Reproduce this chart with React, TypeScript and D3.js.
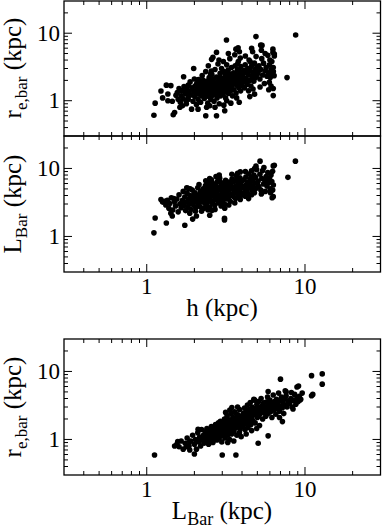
import * as d3 from "d3";

// h (kpc) vs r_e,bar (kpc)
const hRe: [number, number][] = [
  [1.11, 0.61], [1.13, 0.92], [1.23, 1.39], [1.26, 1.1], [1.33, 1.7], [1.42, 1.67], [1.36, 1.26], [1.36, 1.0],
  [1.45, 0.98], [1.47, 0.62], [1.5, 0.67], [1.53, 1.2], [1.62, 0.8], [1.66, 1.4], [1.68, 0.84], [1.71, 2.26],
  [1.77, 1.0], [1.83, 1.7], [1.83, 1.16], [1.92, 0.75], [1.98, 3.0], [2.0, 2.1], [2.11, 0.75], [2.17, 1.6],
  [2.36, 0.6], [2.5, 0.84], [2.53, 2.48], [2.57, 4.1], [2.76, 5.2], [2.76, 0.6], [3.07, 0.86], [3.11, 0.71],
  [3.19, 7.95], [3.78, 6.1], [3.84, 0.95], [4.3, 1.87], [4.48, 1.15], [4.7, 1.49], [4.9, 8.9], [5.25, 6.65],
  [5.35, 6.6], [5.95, 1.87], [6.1, 1.65], [6.27, 5.8], [6.27, 5.2], [6.3, 1.52], [6.3, 1.19], [6.4, 4.9],
  [6.4, 4.6], [6.3, 3.1], [7.7, 2.2], [8.73, 9.4],
  [1.56, 1.32], [1.58, 1.05], [1.6, 1.52], [1.63, 0.95], [1.65, 1.18], [1.68, 1.42], [1.7, 1.08], [1.72, 1.62],
  [1.75, 1.28], [1.78, 0.9], [1.8, 1.48], [1.83, 1.05], [1.85, 1.35], [1.88, 1.9], [1.9, 1.22], [1.93, 1.55],
  [1.96, 0.98], [1.98, 1.4],
  [2.01, 1.15], [2.02, 1.65], [2.04, 1.3], [2.06, 0.88], [2.07, 1.8], [2.09, 1.45], [2.11, 1.05], [2.12, 2.05],
  [2.14, 1.25], [2.16, 1.58], [2.18, 1.38], [2.19, 0.95], [2.21, 1.72], [2.23, 1.18], [2.24, 2.35], [2.26, 1.48],
  [2.28, 1.3], [2.3, 1.85], [2.31, 1.08], [2.33, 1.62], [2.35, 1.4], [2.36, 2.7], [2.38, 1.22], [2.4, 1.55],
  [2.41, 1.95], [2.43, 0.92], [2.44, 1.35], [2.46, 1.75], [2.47, 1.15], [2.48, 2.2], [2.49, 1.48], [2.45, 3.3],
  [2.39, 0.8], [2.27, 2.0], [2.15, 1.9],
  [2.51, 1.28], [2.52, 1.68], [2.54, 1.05], [2.55, 1.9], [2.57, 1.42], [2.58, 2.45], [2.6, 1.2], [2.61, 1.58],
  [2.63, 1.35], [2.64, 2.1], [2.66, 0.98], [2.67, 1.75], [2.69, 1.5], [2.7, 2.9], [2.72, 1.25], [2.73, 1.65],
  [2.75, 1.4], [2.76, 2.25], [2.78, 1.1], [2.79, 1.85], [2.81, 1.55], [2.82, 3.5], [2.84, 1.32], [2.85, 2.0],
  [2.87, 0.9], [2.88, 1.7], [2.9, 1.45], [2.91, 2.55], [2.93, 1.18], [2.94, 1.95], [2.96, 1.6], [2.97, 3.0],
  [2.99, 1.38], [2.62, 4.4], [2.86, 4.0], [2.7, 0.8], [2.56, 2.75], [2.8, 1.62], [2.92, 2.2], [2.65, 1.88],
  [3.01, 1.72], [3.03, 1.25], [3.04, 2.15], [3.06, 1.5], [3.08, 2.7], [3.1, 1.35], [3.11, 1.95], [3.13, 1.62],
  [3.15, 1.1], [3.16, 2.35], [3.18, 1.8], [3.2, 3.4], [3.22, 1.45], [3.23, 2.05], [3.25, 1.7], [3.27, 2.85],
  [3.29, 1.28], [3.3, 1.92], [3.32, 2.5], [3.34, 1.58], [3.35, 4.2], [3.37, 2.2], [3.39, 1.4], [3.41, 1.85],
  [3.43, 3.1], [3.44, 1.65], [3.46, 2.4], [3.48, 1.18], [3.49, 2.0], [3.05, 3.8], [3.28, 5.0], [3.4, 0.92],
  [3.12, 2.5], [3.36, 1.75], [3.2, 1.0],
  [3.51, 1.75], [3.54, 2.6], [3.56, 1.45], [3.59, 2.15], [3.62, 3.3], [3.64, 1.9], [3.67, 1.3], [3.69, 2.45],
  [3.72, 1.68], [3.74, 2.9], [3.77, 2.05], [3.79, 3.8], [3.82, 1.55], [3.84, 2.3], [3.87, 1.85], [3.89, 2.7],
  [3.92, 1.4], [3.94, 3.2], [3.97, 2.1], [3.99, 1.7], [3.6, 4.8], [3.85, 5.3], [3.7, 1.1], [3.95, 2.5],
  [3.58, 2.0], [3.75, 3.5], [3.66, 5.8], [3.9, 4.3],
  [4.03, 2.35], [4.07, 1.9], [4.11, 2.8], [4.15, 1.55], [4.19, 3.4], [4.23, 2.15], [4.27, 2.6], [4.31, 1.75],
  [4.35, 3.0], [4.39, 2.4], [4.43, 4.0], [4.47, 2.0], [4.51, 2.75], [4.55, 1.65], [4.59, 3.25], [4.63, 2.3],
  [4.67, 5.3], [4.71, 2.55], [4.75, 1.95], [4.79, 3.6], [4.83, 2.85], [4.87, 2.2], [4.91, 4.5], [4.95, 3.1],
  [4.99, 2.45], [4.2, 4.6], [4.4, 1.4], [4.6, 6.0], [4.8, 1.25], [4.5, 3.8],
  [5.05, 2.65], [5.12, 3.3], [5.19, 2.1], [5.26, 2.9], [5.33, 4.2], [5.4, 2.4], [5.47, 3.6], [5.54, 1.8],
  [5.61, 2.75], [5.68, 3.1], [5.75, 2.3], [5.82, 4.7], [5.89, 2.6], [5.96, 3.4], [6.03, 2.2], [6.1, 2.9],
  [6.17, 3.8], [6.24, 2.45], [6.31, 2.7], [6.38, 2.35], [5.3, 5.6], [5.6, 5.0], [5.9, 1.45], [6.0, 4.0],
  [5.2, 1.6],
];

// h (kpc) vs L_Bar (kpc)
const hL: [number, number][] = [
  [1.11, 1.13], [1.13, 1.87], [1.33, 1.58], [1.23, 3.5], [1.26, 3.2], [1.3, 3.3], [1.48, 3.6], [1.42, 2.2],
  [1.45, 2.0], [1.66, 3.1], [1.74, 1.46], [1.82, 5.1], [1.88, 5.0], [2.06, 2.0], [2.5, 2.05], [3.1, 1.75],
  [3.1, 1.85], [5.2, 12.8], [4.9, 10.8], [6.3, 10.9], [6.4, 11.1], [8.7, 12.8], [7.8, 7.4], [6.25, 4.8],
  [6.2, 3.7], [6.3, 3.85], [5.8, 6.5], [5.9, 6.2], [2.5, 7.1], [2.87, 8.0], [3.9, 8.9], [4.6, 7.5],
  [1.32, 2.9], [1.35, 3.4], [1.38, 2.6], [1.4, 3.05], [1.43, 3.7], [1.46, 2.45], [1.5, 3.25], [1.52, 2.8],
  [1.55, 3.55], [1.58, 2.3], [1.6, 4.1], [1.62, 3.0], [1.65, 2.65], [1.68, 3.4], [1.7, 4.6],
  [1.72, 2.85], [1.74, 3.8], [1.76, 2.4], [1.78, 3.2], [1.8, 4.3], [1.82, 2.7], [1.84, 3.55], [1.86, 3.0],
  [1.88, 4.0], [1.9, 2.5], [1.92, 3.4], [1.94, 4.8], [1.96, 2.95], [1.98, 3.7], [2.0, 3.2], [2.02, 4.4],
  [2.04, 2.65], [2.06, 3.9], [2.08, 3.35], [2.1, 5.2], [1.87, 2.2], [1.95, 1.8], [1.79, 5.2], [2.03, 2.35],
  [1.99, 4.1],
  [2.11, 3.0], [2.13, 4.1], [2.15, 3.55], [2.17, 2.75], [2.19, 4.6], [2.21, 3.25], [2.23, 3.85], [2.25, 2.55],
  [2.27, 5.0], [2.29, 3.45], [2.31, 4.2], [2.33, 3.05], [2.35, 5.6], [2.37, 3.7], [2.39, 2.85], [2.41, 4.5],
  [2.43, 3.3], [2.45, 4.0], [2.47, 6.2], [2.49, 3.6], [2.51, 2.7], [2.53, 4.8], [2.55, 3.9], [2.57, 3.15],
  [2.59, 5.3], [2.14, 5.8], [2.22, 2.35], [2.36, 6.6], [2.44, 2.45], [2.52, 5.9], [2.18, 3.9], [2.26, 4.4],
  [2.32, 3.6], [2.38, 4.9], [2.46, 3.4], [2.54, 4.3], [2.58, 2.4], [2.3, 2.6], [2.42, 5.4], [2.56, 6.8],
  [2.61, 4.0], [2.63, 3.35], [2.65, 5.1], [2.67, 4.45], [2.69, 2.9], [2.71, 3.8], [2.73, 5.7], [2.75, 4.2],
  [2.77, 3.5], [2.79, 6.4], [2.81, 4.7], [2.83, 3.1], [2.85, 5.3], [2.87, 4.0], [2.89, 7.2], [2.91, 3.65],
  [2.93, 4.9], [2.95, 2.8], [2.97, 5.6], [2.99, 4.3], [3.01, 3.4], [3.03, 6.0], [3.05, 4.6], [3.07, 3.8],
  [3.09, 5.2], [3.11, 2.6], [3.13, 4.1], [3.15, 6.7], [3.17, 3.55], [3.19, 4.8], [2.62, 6.0], [2.7, 2.5],
  [2.78, 4.95], [2.86, 3.75], [2.94, 6.2], [3.02, 4.9], [3.1, 3.0], [3.18, 5.7], [2.74, 7.6], [2.98, 3.2],
  [3.22, 4.4], [3.25, 5.5], [3.28, 3.7], [3.31, 6.3], [3.34, 4.9], [3.37, 3.3], [3.4, 5.8], [3.43, 4.2],
  [3.46, 7.0], [3.49, 5.1], [3.52, 3.9], [3.55, 6.5], [3.58, 4.6], [3.61, 5.4], [3.64, 3.6], [3.67, 7.8],
  [3.7, 5.0], [3.73, 4.3], [3.76, 6.1], [3.79, 3.8], [3.82, 5.6], [3.85, 4.7], [3.88, 7.3], [3.91, 5.2],
  [3.94, 4.0], [3.97, 6.4], [3.3, 2.9], [3.45, 8.2], [3.6, 3.1], [3.75, 8.5], [3.9, 3.5], [3.35, 4.0],
  [3.55, 5.2], [3.7, 6.8], [3.85, 4.4],
  [4.03, 5.5], [4.07, 4.3], [4.11, 6.8], [4.15, 5.0], [4.19, 3.9], [4.23, 7.5], [4.27, 5.8], [4.31, 4.6],
  [4.35, 6.3], [4.39, 8.3], [4.43, 5.2], [4.47, 4.1], [4.51, 7.0], [4.55, 5.6], [4.59, 9.2], [4.63, 4.8],
  [4.67, 6.6], [4.71, 5.3], [4.75, 8.0], [4.79, 4.4], [4.83, 6.1], [4.87, 7.4], [4.91, 5.1], [4.95, 9.6],
  [4.99, 6.0], [4.2, 9.0], [4.4, 3.6], [4.6, 4.1], [4.8, 10.0], [4.5, 6.2],
  [5.05, 6.5], [5.12, 5.4], [5.19, 8.2], [5.26, 4.8], [5.33, 7.1], [5.4, 9.3], [5.47, 5.9], [5.54, 6.8],
  [5.61, 4.6], [5.68, 7.6], [5.75, 5.5], [5.82, 8.7], [5.89, 6.2], [5.96, 7.2], [6.03, 5.0], [6.1, 8.0],
  [6.17, 6.4], [6.24, 9.1], [6.31, 5.7], [5.5, 10.3], [5.3, 4.2], [6.05, 4.4],
];

// L_Bar (kpc) vs r_e,bar (kpc)
const lRe: [number, number][] = [
  [1.12, 0.59], [1.5, 0.8], [1.57, 0.93], [1.78, 0.78], [1.87, 0.7], [2.0, 0.61], [1.87, 0.93], [2.11, 1.41],
  [3.0, 0.59], [3.66, 0.59], [5.06, 0.88], [5.85, 1.13], [7.0, 7.7], [5.85, 5.05], [4.75, 3.9], [4.8, 3.8],
  [11.0, 8.67], [12.85, 9.2], [12.85, 6.5], [11.2, 4.6], [11.0, 4.4], [9.3, 3.8], [8.2, 4.9], [8.9, 5.9],
  [9.1, 6.1], [7.5, 5.2], [7.6, 5.0], [7.2, 1.83], [6.9, 2.1],
  [1.55, 0.85], [1.6, 0.78], [1.65, 0.95], [1.7, 0.72], [1.75, 0.88], [1.8, 1.05], [1.85, 0.8], [1.9, 0.95],
  [1.95, 1.15], [2.0, 0.85], [2.03, 1.0], [2.06, 0.72], [2.1, 1.25], [2.13, 0.92], [2.16, 1.08], [2.19, 0.8],
  [2.22, 1.4], [2.25, 0.98], [2.28, 1.15], [2.3, 0.88],
  [2.32, 1.05], [2.34, 1.3], [2.36, 0.92], [2.38, 1.18], [2.4, 1.45], [2.42, 1.0], [2.44, 1.25], [2.46, 0.85],
  [2.48, 1.12], [2.5, 1.38], [2.52, 0.95], [2.54, 1.2], [2.56, 1.55], [2.58, 1.05], [2.6, 1.3], [2.62, 0.9],
  [2.64, 1.15], [2.66, 1.42], [2.68, 1.0], [2.7, 1.25], [2.72, 1.65], [2.74, 1.1], [2.76, 1.35], [2.78, 0.98],
  [2.8, 1.5], [2.82, 1.2], [2.84, 1.75], [2.86, 1.05], [2.88, 1.4], [2.9, 1.28], [2.92, 1.85], [2.94, 1.12],
  [2.96, 1.55], [2.98, 0.92], [2.99, 1.33],
  [3.02, 1.45], [3.04, 1.18], [3.06, 1.7], [3.08, 1.3], [3.1, 2.0], [3.12, 1.05], [3.14, 1.55], [3.16, 1.25],
  [3.18, 1.85], [3.2, 1.4], [3.22, 2.2], [3.24, 1.15], [3.26, 1.62], [3.28, 1.35], [3.3, 1.95], [3.32, 1.5],
  [3.34, 1.0], [3.36, 1.75], [3.38, 1.28], [3.4, 2.4], [3.42, 1.58], [3.44, 1.2], [3.46, 1.88], [3.48, 1.45],
  [3.5, 2.1], [3.53, 1.65], [3.56, 1.3], [3.59, 2.55], [3.62, 1.8], [3.65, 1.48], [3.68, 2.05], [3.71, 1.15],
  [3.74, 1.7], [3.77, 2.3], [3.8, 1.55], [3.83, 1.95], [3.86, 2.75], [3.89, 1.4], [3.92, 1.85], [3.95, 2.2],
  [3.98, 1.62], [3.15, 2.5], [3.35, 2.7], [3.55, 0.95], [3.75, 3.0], [3.95, 1.1], [3.25, 0.9], [3.45, 2.95],
  [3.65, 2.4], [3.85, 1.25],
  [4.03, 2.0], [4.06, 1.55], [4.09, 2.45], [4.12, 1.8], [4.15, 2.9], [4.18, 1.4], [4.21, 2.15], [4.24, 1.7],
  [4.27, 2.6], [4.3, 1.95], [4.33, 3.2], [4.36, 1.5], [4.39, 2.3], [4.42, 1.85], [4.45, 2.75], [4.48, 2.05],
  [4.51, 3.5], [4.54, 1.65], [4.57, 2.5], [4.6, 2.15], [4.64, 3.0], [4.68, 1.9], [4.72, 2.65], [4.76, 2.3],
  [4.8, 3.8], [4.84, 1.75], [4.88, 2.85], [4.92, 2.45], [4.96, 3.3], [5.0, 2.1], [5.04, 2.7], [5.08, 3.6],
  [5.12, 2.25], [5.16, 1.6], [5.2, 2.95], [5.24, 2.4], [5.28, 4.0], [5.32, 2.6], [5.36, 3.15], [5.4, 2.0],
  [5.44, 2.85], [5.48, 3.45], [4.25, 1.2], [4.6, 1.35], [4.95, 1.45],
  [5.55, 2.5], [5.6, 3.0], [5.65, 2.2], [5.7, 3.55], [5.75, 2.75], [5.8, 4.2], [5.85, 2.4], [5.9, 3.2],
  [5.95, 2.9], [6.0, 3.8], [6.06, 2.55], [6.12, 3.4], [6.18, 2.1], [6.24, 3.0], [6.3, 4.5], [6.36, 2.7],
  [6.42, 3.6], [6.48, 3.1], [6.54, 2.35], [6.6, 3.9], [6.67, 2.85], [6.74, 3.35], [6.81, 4.8], [6.88, 2.6],
  [6.95, 3.7], [7.02, 3.05], [7.1, 4.2], [7.18, 2.9], [7.26, 3.5], [7.34, 2.4], [7.42, 3.95], [7.5, 3.2],
  [7.6, 4.4], [7.7, 3.0], [7.8, 3.7],
  [8.0, 3.4], [8.15, 4.0], [8.3, 3.0], [8.45, 3.75], [8.6, 4.6], [8.75, 3.3], [8.9, 4.1], [9.05, 3.6],
  [9.2, 4.3], [9.4, 3.9], [9.6, 4.8], [8.4, 2.8],
];

const domain: [number, number] = [0.3, 30];
const majorTicks = [1, 10];
const minorTicks = [0.4, 0.5, 0.6, 0.7, 0.8, 0.9, 2, 3, 4, 5, 6, 7, 8, 9, 20];
const tickLabels = ["1", "10"];

const FONT = "'Liberation Serif', 'Times New Roman', serif";
const LEFT = 64;
const RIGHT = 380.5;

const x = d3.scaleLog().domain(domain).range([LEFT, RIGHT]);

function YTitle({ cy, main, sub }: { cy: number; main: string; sub: string }) {
  return (
    <text
      transform={`translate(21,${cy}) rotate(-90)`}
      textAnchor="middle"
      fontFamily={FONT}
      fontSize={25}
    >
      {main}
      <tspan fontSize={17} dy={6}>{sub}</tspan>
      <tspan dy={-6}> (kpc)</tspan>
    </text>
  );
}

function Panel({
  top,
  bottom,
  data,
}: {
  top: number;
  bottom: number;
  data: [number, number][];
}) {
  const y = d3.scaleLog().domain(domain).range([bottom, top]);
  return (
    <g>
      {data.map(([a, b], i) => (
        <circle key={i} cx={x(a)} cy={y(b)} r={2.8} fill="#000" />
      ))}
      {/* x ticks, bottom and top, inward */}
      {majorTicks.map((t) => (
        <g key={"xm" + t} stroke="#000" strokeWidth={1}>
          <line x1={x(t)} x2={x(t)} y1={bottom} y2={bottom - 8} />
          <line x1={x(t)} x2={x(t)} y1={top} y2={top + 8} />
        </g>
      ))}
      {minorTicks.map((t) => (
        <g key={"xn" + t} stroke="#000" strokeWidth={1}>
          <line x1={x(t)} x2={x(t)} y1={bottom} y2={bottom - 4} />
          <line x1={x(t)} x2={x(t)} y1={top} y2={top + 4} />
        </g>
      ))}
      {/* y ticks, left and right, inward */}
      {majorTicks.map((t) => (
        <g key={"ym" + t} stroke="#000" strokeWidth={1}>
          <line x1={LEFT} x2={LEFT + 8} y1={y(t)} y2={y(t)} />
          <line x1={RIGHT} x2={RIGHT - 8} y1={y(t)} y2={y(t)} />
        </g>
      ))}
      {minorTicks.map((t) => (
        <g key={"yn" + t} stroke="#000" strokeWidth={1}>
          <line x1={LEFT} x2={LEFT + 4} y1={y(t)} y2={y(t)} />
          <line x1={RIGHT} x2={RIGHT - 4} y1={y(t)} y2={y(t)} />
        </g>
      ))}
      {majorTicks.map((t, i) => (
        <text
          key={"yl" + t}
          x={LEFT - 4}
          y={y(t)}
          textAnchor="end"
          dominantBaseline="central"
          fontFamily={FONT}
          fontSize={23}
        >
          {tickLabels[i]}
        </text>
      ))}
      <rect
        x={LEFT}
        y={top}
        width={RIGHT - LEFT}
        height={bottom - top}
        fill="none"
        stroke="#000"
        strokeWidth={1.3}
      />
    </g>
  );
}

function XTickLabels({ baseline }: { baseline: number }) {
  return (
    <g>
      {majorTicks.map((t, i) => (
        <text
          key={t}
          x={x(t)}
          y={baseline}
          textAnchor="middle"
          fontFamily={FONT}
          fontSize={23}
        >
          {tickLabels[i]}
        </text>
      ))}
    </g>
  );
}

export default function App() {
  return (
    <svg
      width={382}
      height={530}
      viewBox="0 0 382 530"
      style={{ position: "absolute", left: 0, top: 0, background: "#fff" }}
    >
      <rect width={382} height={530} fill="#fff" />
      <Panel top={1} bottom={136} data={hRe} />
      <Panel top={136} bottom={272} data={hL} />
      <Panel top={339} bottom={475} data={lRe} />

      <YTitle cy={68} main="r" sub="e,bar" />
      <YTitle cy={204} main="L" sub="Bar" />
      <YTitle cy={407} main="r" sub="e,bar" />

      <XTickLabels baseline={294} />
      <XTickLabels baseline={497} />

      <text x={222} y={316} textAnchor="middle" fontFamily={FONT} fontSize={25}>
        h (kpc)
      </text>
      <text x={222} y={519} textAnchor="middle" fontFamily={FONT} fontSize={25}>
        L<tspan fontSize={18} dy={6}>Bar</tspan>
        <tspan dy={-6}> (kpc)</tspan>
      </text>
    </svg>
  );
}
